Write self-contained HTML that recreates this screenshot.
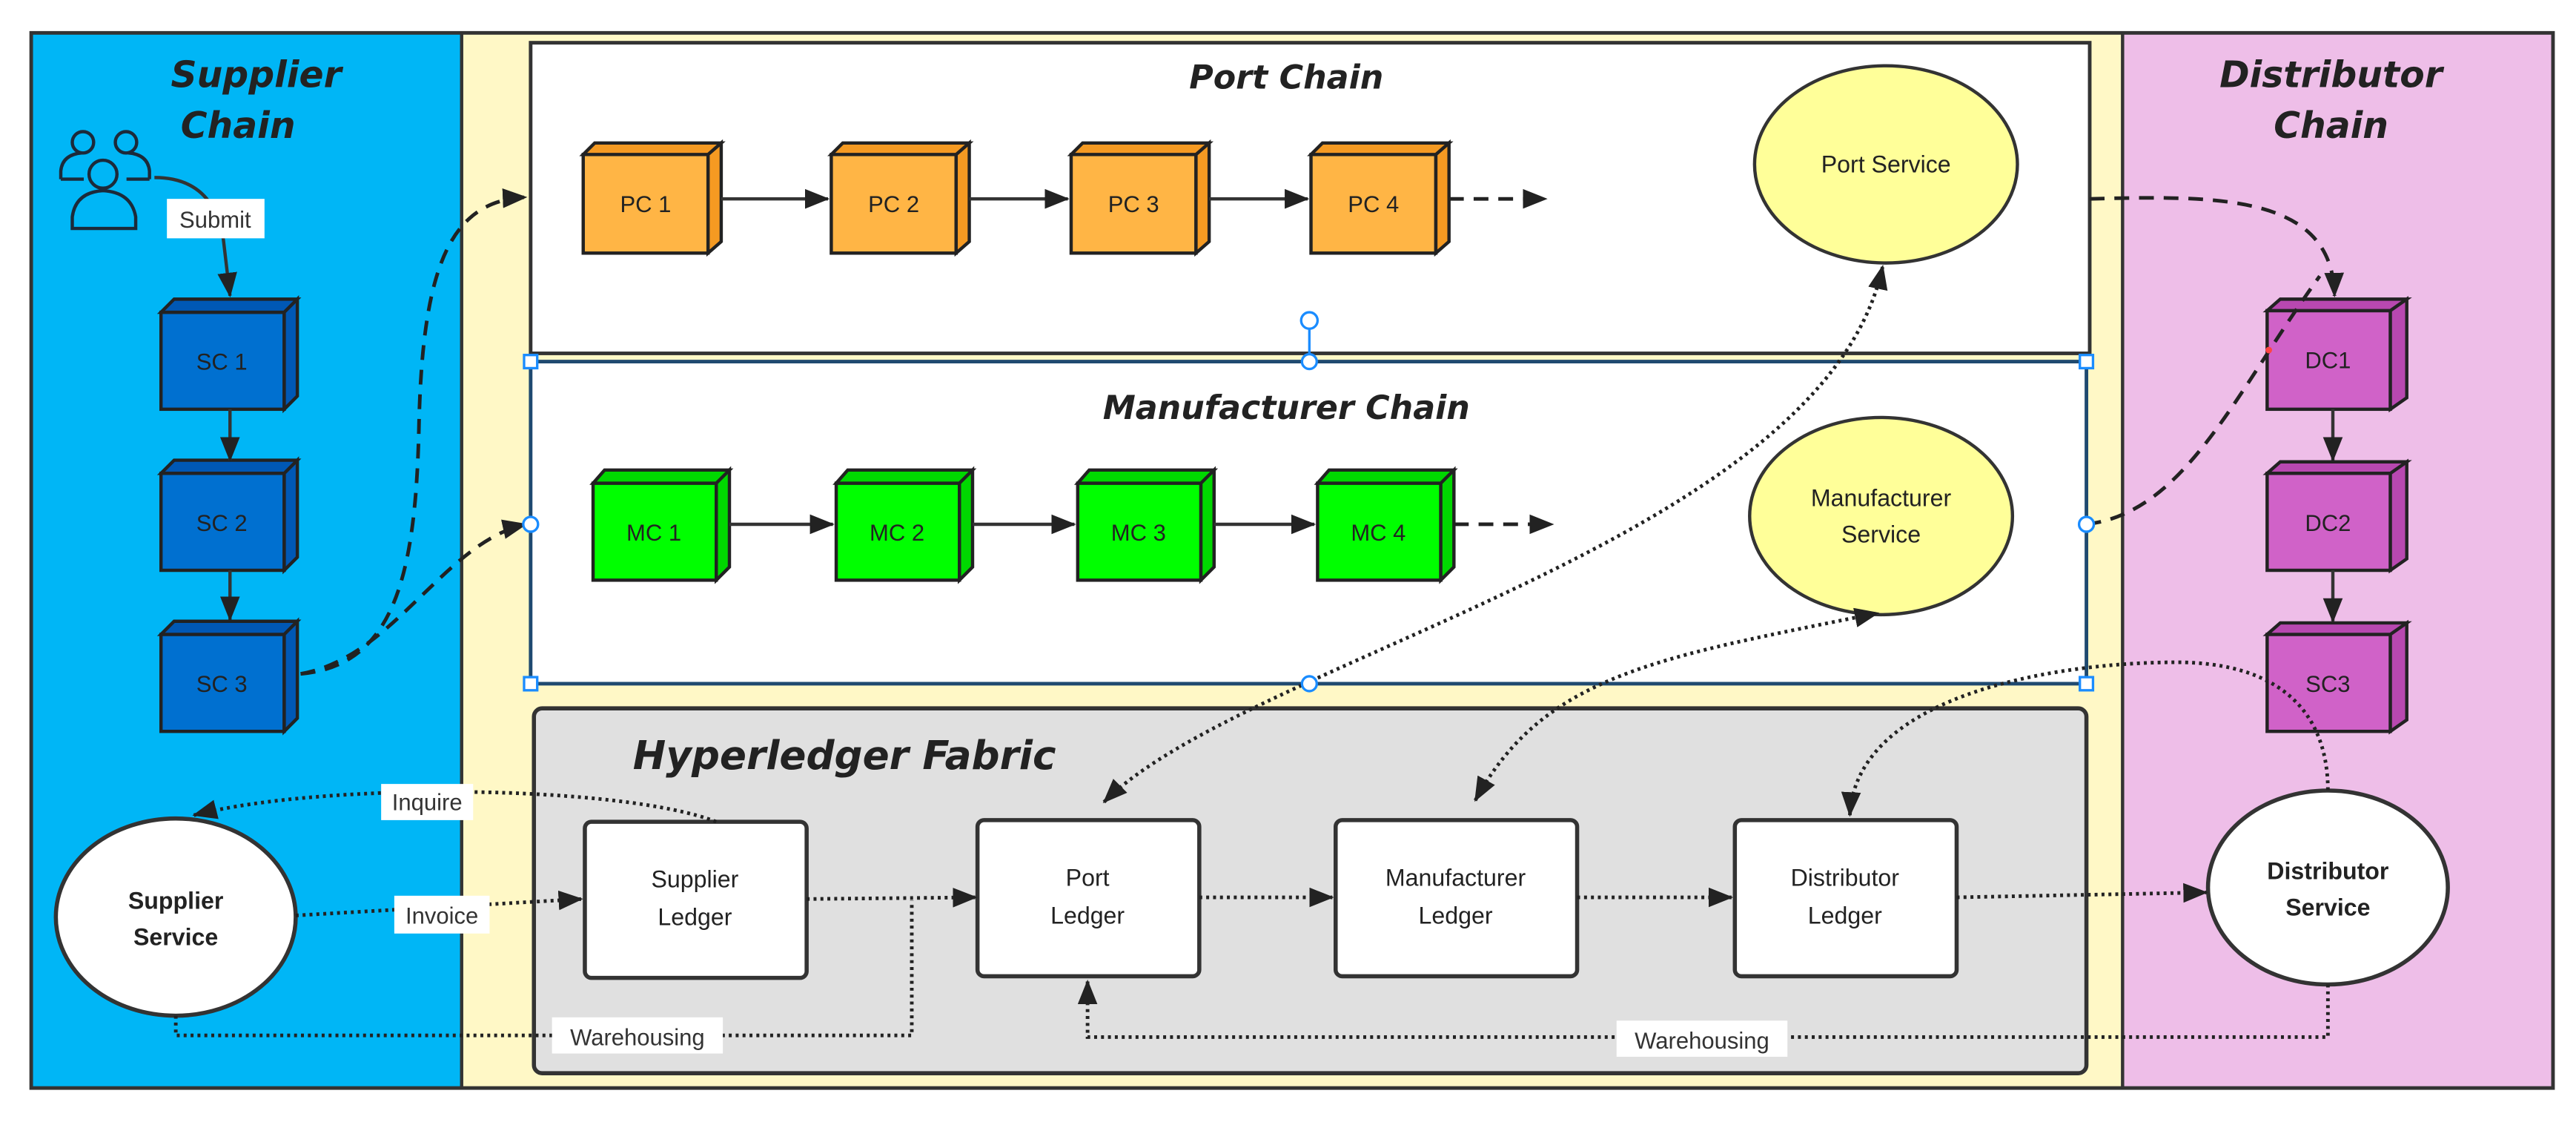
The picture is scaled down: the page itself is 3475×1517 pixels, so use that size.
<!DOCTYPE html>
<html><head><meta charset="utf-8"><style>
html,body{margin:0;padding:0;background:#fff}
svg{display:block}
.t{font-family:"DejaVu Sans","Liberation Sans",sans-serif;font-weight:bold;font-style:oblique;fill:#222}
.c{font-family:"Liberation Sans",sans-serif;font-size:14px;fill:#222;text-anchor:middle}
.l{font-family:"Liberation Sans",sans-serif;font-size:14.5px;fill:#222;text-anchor:middle}
.lab{font-family:"Liberation Sans",sans-serif;font-size:14px;fill:#333;text-anchor:middle}
.dot{fill:none;stroke:#222;stroke-width:2.2;stroke-dasharray:1.8 2.4}
.dash{fill:none;stroke:#222;stroke-width:2.2;stroke-dasharray:9 6}
.sol{fill:none;stroke:#333;stroke-width:2}
</style></head><body>
<svg width="3475" height="1517" viewBox="0 0 1568 684.5" xmlns="http://www.w3.org/2000/svg">
<defs>
<marker id="a" markerUnits="userSpaceOnUse" markerWidth="16" markerHeight="12" refX="14" refY="6" orient="auto"><path d="M0,0 L15,6 L0,12 z" fill="#222"/></marker>
<marker id="as" markerUnits="userSpaceOnUse" markerWidth="16" markerHeight="12" refX="14" refY="6" orient="auto-start-reverse"><path d="M0,0 L15,6 L0,12 z" fill="#222"/></marker>
</defs>
<rect x="19" y="20" width="262" height="642" fill="#00B6F6"/>
<rect x="281" y="20" width="1011" height="642" fill="#FFF8C6"/>
<rect x="1292" y="20" width="262" height="642" fill="#EEBEE8"/>
<rect x="19" y="20" width="1535" height="642" fill="none" stroke="#333" stroke-width="2.2"/>
<line x1="281" y1="20" x2="281" y2="662" stroke="#333" stroke-width="2"/>
<line x1="1292" y1="20" x2="1292" y2="662" stroke="#333" stroke-width="2"/>
<rect x="323" y="26" width="949" height="189" fill="#fff" stroke="#333" stroke-width="2.2"/>
<rect x="323" y="220" width="947" height="196" fill="#fff" stroke="#1f4a70" stroke-width="2.2"/>
<rect x="325" y="431" width="945" height="222" rx="5" fill="#E0E0E0" stroke="#333" stroke-width="2.5"/>
<text class="t" x="104" y="53" font-size="22">Supplier</text>
<text class="t" x="110" y="84" font-size="22">Chain</text>
<text class="t" x="1351" y="53" font-size="22">Distributor</text>
<text class="t" x="1384" y="84" font-size="22">Chain</text>
<text class="t" x="783" y="54" font-size="20" text-anchor="middle">Port Chain</text>
<text class="t" x="783" y="255" font-size="20" text-anchor="middle">Manufacturer Chain</text>
<text class="t" x="514" y="468" font-size="24" text-anchor="middle">Hyperledger Fabric</text>
<g fill="none" stroke="#1c2a3a" stroke-width="2">
<circle cx="50.5" cy="86.6" r="6.5"/><circle cx="76.7" cy="86.6" r="6.5"/>
<path d="M37,109 L37,104 Q38,94 50,93 M91,109 L91,104 Q90,94 78,93"/>
<path d="M37,109 L51,109 M77,109 L91,109"/>
<circle cx="62.7" cy="106" r="8.5"/>
<path d="M44,139 L44,132 Q46,117 62.7,116 Q80,117 82.6,132 L82.6,139 Z"/>
</g>
<path class="sol" d="M94,108 Q130,108 136,146 L140,180" marker-end="url(#a)"/>
<rect x="101.6" y="121" width="59.4" height="24" fill="#fff"/>
<text class="lab" x="131" y="138.5">Submit</text>
<g stroke="#222" stroke-width="2">
<g fill="#0070D0"><rect x="98" y="190" width="75" height="59"/><rect x="98" y="288" width="75" height="59"/><rect x="98" y="386" width="75" height="59"/></g>
<g fill="#0058B5">
<path d="M98,190 L106,182 L181,182 L173,190Z M173,190 L181,182 L181,241 L173,249Z"/>
<path d="M98,288 L106,280 L181,280 L173,288Z M173,288 L181,280 L181,339 L173,347Z"/>
<path d="M98,386 L106,378 L181,378 L173,386Z M173,386 L181,378 L181,437 L173,445Z"/>
</g>
<g fill="#D062C8"><rect x="1380" y="189" width="75" height="60"/><rect x="1380" y="288" width="75" height="59"/><rect x="1380" y="386" width="75" height="59"/></g>
<g fill="#B848B0">
<path d="M1380,189 L1388,182 L1465,182 L1455,189Z M1455,189 L1465,182 L1465,242 L1455,249Z"/>
<path d="M1380,288 L1388,281 L1465,281 L1455,288Z M1455,288 L1465,281 L1465,340 L1455,347Z"/>
<path d="M1380,386 L1388,379 L1465,379 L1455,386Z M1455,386 L1465,379 L1465,438 L1455,445Z"/>
</g>
<g fill="#FFB545"><rect x="355" y="94" width="76" height="60"/><rect x="506" y="94" width="76" height="60"/><rect x="652" y="94" width="76" height="60"/><rect x="798" y="94" width="76" height="60"/></g>
<g fill="#F59A22">
<path d="M355,94 L362,87 L439,87 L431,94Z M431,94 L439,87 L439,147 L431,154Z"/>
<path d="M506,94 L513,87 L590,87 L582,94Z M582,94 L590,87 L590,147 L582,154Z"/>
<path d="M652,94 L659,87 L736,87 L728,94Z M728,94 L736,87 L736,147 L728,154Z"/>
<path d="M798,94 L805,87 L882,87 L874,94Z M874,94 L882,87 L882,147 L874,154Z"/>
</g>
<g fill="#00FF00"><rect x="361" y="294" width="75" height="59"/><rect x="509" y="294" width="75" height="59"/><rect x="656" y="294" width="75" height="59"/><rect x="802" y="294" width="75" height="59"/></g>
<g fill="#00D800">
<path d="M361,294 L368,286 L444,286 L436,294Z M436,294 L444,286 L444,345 L436,353Z"/>
<path d="M509,294 L516,286 L592,286 L584,294Z M584,294 L592,286 L592,345 L584,353Z"/>
<path d="M656,294 L663,286 L739,286 L731,294Z M731,294 L739,286 L739,345 L731,353Z"/>
<path d="M802,294 L809,286 L885,286 L877,294Z M877,294 L885,286 L885,345 L877,353Z"/>
</g>
</g>
<g class="c">
<text x="135" y="225">SC 1</text><text x="135" y="323">SC 2</text><text x="135" y="421">SC 3</text>
<text x="1417" y="224">DC1</text><text x="1417" y="323">DC2</text><text x="1417" y="421">SC3</text>
<text x="393" y="129">PC 1</text><text x="544" y="129">PC 2</text><text x="690" y="129">PC 3</text><text x="836" y="129">PC 4</text>
<text x="398" y="329">MC 1</text><text x="546" y="329">MC 2</text><text x="693" y="329">MC 3</text><text x="839" y="329">MC 4</text>
</g>
<g class="sol" stroke-width="2">
<line x1="140" y1="249" x2="140" y2="280" marker-end="url(#a)"/>
<line x1="140" y1="347" x2="140" y2="377" marker-end="url(#a)"/>
<line x1="1420" y1="249" x2="1420" y2="280" marker-end="url(#a)"/>
<line x1="1420" y1="347" x2="1420" y2="378" marker-end="url(#a)"/>
<line x1="439" y1="121" x2="504" y2="121" marker-end="url(#a)"/>
<line x1="590" y1="121" x2="650" y2="121" marker-end="url(#a)"/>
<line x1="736" y1="121" x2="796" y2="121" marker-end="url(#a)"/>
<line x1="444" y1="319" x2="507" y2="319" marker-end="url(#a)"/>
<line x1="592" y1="319" x2="654" y2="319" marker-end="url(#a)"/>
<line x1="739" y1="319" x2="800" y2="319" marker-end="url(#a)"/>
</g>
<line class="dash" x1="882" y1="121" x2="941" y2="121" marker-end="url(#a)"/>
<line class="dash" x1="885" y1="319" x2="945" y2="319" marker-end="url(#a)"/>
<ellipse cx="1148" cy="100" rx="80" ry="60" fill="#FFFF99" stroke="#333" stroke-width="2"/>
<text class="l" x="1148" y="105">Port Service</text>
<ellipse cx="1145" cy="314" rx="80" ry="60" fill="#FFFF99" stroke="#333" stroke-width="2"/>
<text class="l" x="1145" y="308">Manufacturer</text><text class="l" x="1145" y="330">Service</text>
<ellipse cx="107" cy="558" rx="73" ry="60" fill="#fff" stroke="#333" stroke-width="2.5"/>
<text class="l" x="107" y="553" font-weight="bold" font-size="14">Supplier</text><text class="l" x="107" y="575" font-weight="bold" font-size="14">Service</text>
<ellipse cx="1417" cy="540" rx="73" ry="59" fill="#fff" stroke="#333" stroke-width="2.5"/>
<text class="l" x="1417" y="535" font-weight="bold" font-size="14">Distributor</text><text class="l" x="1417" y="557" font-weight="bold" font-size="14">Service</text>
<g fill="#fff" stroke="#333" stroke-width="2.5">
<rect x="356" y="500" width="135" height="95" rx="4"/>
<rect x="595" y="499" width="135" height="95" rx="4"/>
<rect x="813" y="499" width="147" height="95" rx="4"/>
<rect x="1056" y="499" width="135" height="95" rx="4"/>
</g>
<g class="l" font-size="15">
<text x="423" y="540">Supplier</text><text x="423" y="563">Ledger</text>
<text x="662" y="539">Port</text><text x="662" y="562">Ledger</text>
<text x="886" y="539">Manufacturer</text><text x="886" y="562">Ledger</text>
<text x="1123" y="539">Distributor</text><text x="1123" y="562">Ledger</text>
</g>
<path class="dash" d="M183,410 C240,405 253,350 255,260 C257,160 275,122 320,120" marker-end="url(#a)"/>
<path class="dash" d="M183,410 C240,400 270,330 320,319" marker-end="url(#a)"/>
<path class="dash" d="M1272,121 C1350,119 1420,118 1421,180" marker-end="url(#a)"/>
<path class="dash" d="M1270,319 C1330,312 1360,240 1412,168"/>
<circle cx="1381" cy="213" r="2" fill="#f44"/>
<path class="dot" d="M436,500 C380,478 200,475 118,496" marker-end="url(#a)"/>
<path class="dot" d="M180,557 L354,547" marker-end="url(#a)"/>
<path class="dot" d="M491,547 L594,546" marker-end="url(#a)"/>
<path class="dot" d="M730,546 L811,546" marker-end="url(#a)"/>
<path class="dot" d="M960,546 L1054,546" marker-end="url(#a)"/>
<path class="dot" d="M1191,546 L1343,543" marker-end="url(#a)"/>
<path class="dot" d="M107,618 L107,630 L555,630 L555,548"/>
<path class="dot" d="M1417,599 L1417,631 L662,631 L662,597" marker-end="url(#a)"/>
<path class="dot" d="M672,488 C760,400 1110,330 1146,162" marker-start="url(#as)" marker-end="url(#a)"/>
<path class="dot" d="M898,487 C940,410 1010,400 1143,373" marker-start="url(#as)" marker-end="url(#a)"/>
<path class="dot" d="M1126,496 C1130,420 1260,402 1330,403 C1395,405 1417,440 1417,481" marker-start="url(#as)"/>
<rect x="232" y="477" width="56" height="22" fill="#fff"/><text class="lab" x="260" y="493">Inquire</text>
<rect x="240" y="545" width="58" height="23" fill="#fff"/><text class="lab" x="269" y="562">Invoice</text>
<rect x="336" y="619" width="104" height="22" fill="#fff"/><text class="lab" x="388" y="636">Warehousing</text>
<rect x="984" y="621" width="104" height="22" fill="#fff"/><text class="lab" x="1036" y="638">Warehousing</text>
<g fill="#fff" stroke="#1a8cff" stroke-width="1.5">
<line x1="797" y1="200" x2="797" y2="219"/>
<rect x="319" y="216" width="8" height="8"/><rect x="1266" y="216" width="8" height="8"/>
<rect x="319" y="412" width="8" height="8"/><rect x="1266" y="412" width="8" height="8"/>
<circle cx="323" cy="319" r="4.5"/><circle cx="1270" cy="319" r="4.5"/>
<circle cx="797" cy="220" r="4.5"/><circle cx="797" cy="416" r="4.5"/><circle cx="797" cy="195" r="5"/>
</g>
</svg>
</body></html>
